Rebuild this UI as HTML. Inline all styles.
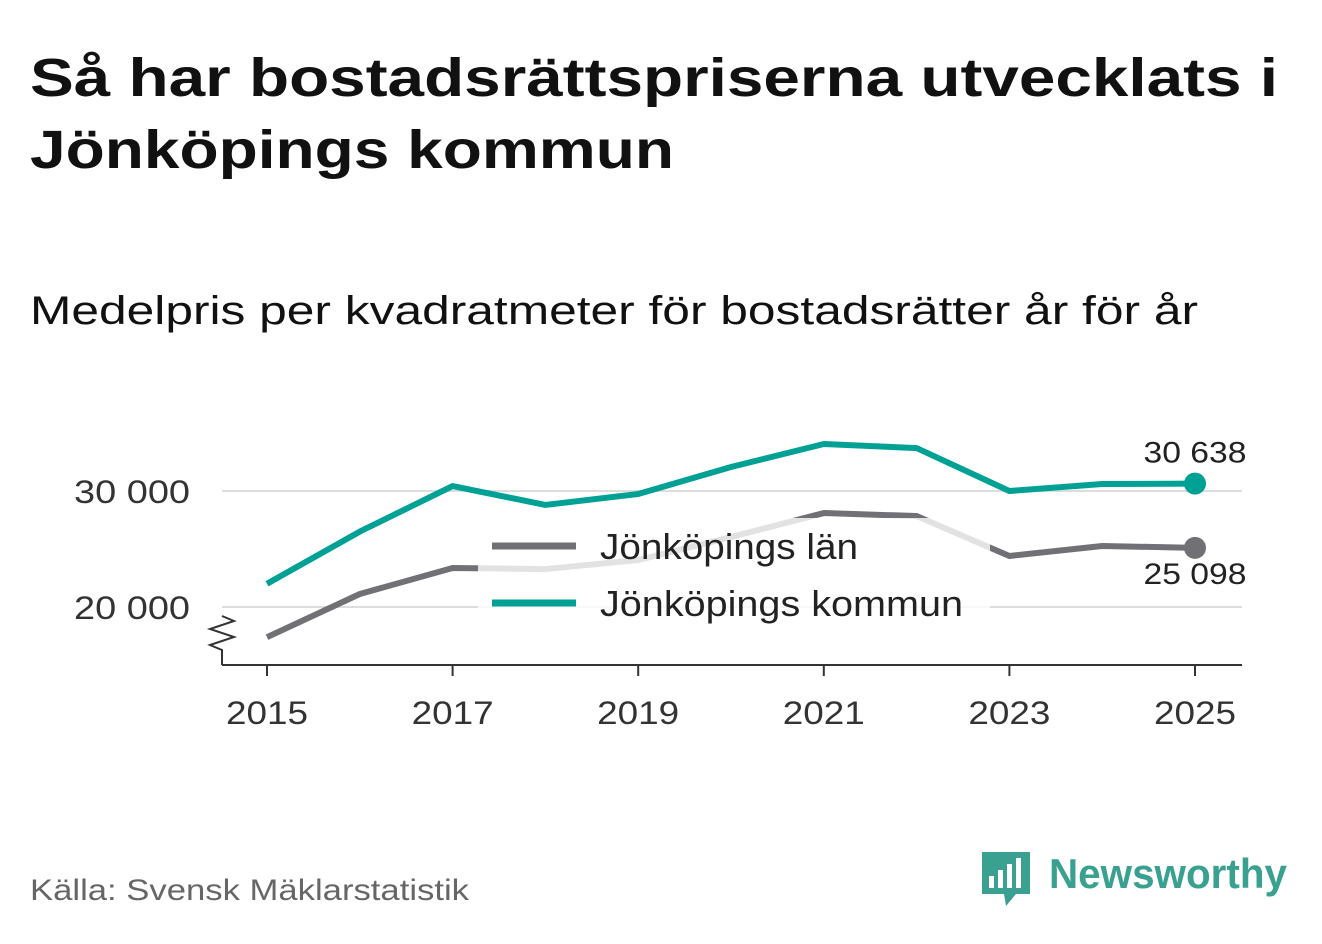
<!DOCTYPE html>
<html><head><meta charset="utf-8"><style>
body{margin:0;background:#fff;width:1322px;height:939px;overflow:hidden;font-family:"Liberation Sans","DejaVu Sans",sans-serif;}
</style></head><body>
<svg width="1322" height="939" viewBox="0 0 1322 939">
<text x="30" y="96" font-size="54" font-weight="bold" fill="#111" textLength="1248" lengthAdjust="spacingAndGlyphs">Så har bostadsrättspriserna utvecklats i</text>
<text x="30" y="168" font-size="54" font-weight="bold" fill="#111" textLength="644" lengthAdjust="spacingAndGlyphs">Jönköpings kommun</text>
<text x="30" y="324" font-size="40" fill="#111" textLength="1168" lengthAdjust="spacingAndGlyphs">Medelpris per kvadratmeter för bostadsrätter år för år</text>
<g id="plot"></g>
<text x="30" y="900" font-size="30" fill="#666" textLength="439" lengthAdjust="spacingAndGlyphs">Källa: Svensk Mäklarstatistik</text>
<g>
<path d="M982 852 h48 v42 h-14 l-10 12 l-2 -12 h-22 z" fill="#3aa190"/>
<rect x="989" y="876" width="5" height="12" fill="#fff"/><rect x="998" y="870" width="5" height="18" fill="#fff"/><rect x="1007" y="864" width="5" height="24" fill="#fff"/><rect x="1016" y="858" width="5" height="30" fill="#fff"/>
<text x="1049" y="888" font-size="42" font-weight="bold" fill="#3aa190" textLength="238" lengthAdjust="spacingAndGlyphs">Newsworthy</text>
</g>
</svg>
<script>
const years=[2015,2016,2017,2018,2019,2020,2021,2022,2023,2024,2025];
const kommun=[22000,26500,30430,28800,29740,32070,34050,33700,30000,30600,30638];
const lan=[17400,21120,23360,23270,24050,26030,28100,27840,24400,25260,25098];
const yTicks=[20000,30000];
const xTicks=[2015,2017,2019,2021,2023,2025];
const NS="http://www.w3.org/2000/svg";
const g=document.getElementById('plot');
const xS=v=>267+(v-2015)*92.8;
const yS=v=>491-(v-30000)*0.0116;
function mk(t,a,p){const e=document.createElementNS(NS,t);for(const k in a)e.setAttribute(k,a[k]);(p||g).appendChild(e);return e;}
const fmt=v=>String(v).replace(/\B(?=(\d{3})+(?!\d))/g,' ');
yTicks.forEach(v=>{
 const l=mk('line',{x1:222,x2:1242,y1:yS(v),y2:yS(v),stroke:'#ddd','stroke-width':2});
 
 
 const t=mk('text',{x:190,y:yS(v)+12,'font-size':32,fill:'#333','text-anchor':'end',textLength:116,lengthAdjust:'spacingAndGlyphs'});t.textContent=fmt(v);
 
 
});
const ax=mk('line',{x1:222,x2:1242,y1:665,y2:665,stroke:'#333','stroke-width':2});


const br=mk('path',{d:'M222 665 V650 L210 645 L234 637 L210 629 L234 621 L222 616',fill:'none',stroke:'#333','stroke-width':2});


xTicks.forEach(v=>{
 mk('line',{x1:xS(v),x2:xS(v),y1:665,y2:676,stroke:'#333','stroke-width':2});
 const t=mk('text',{x:xS(v),y:724,'font-size':32,fill:'#333','text-anchor':'middle',textLength:82,lengthAdjust:'spacingAndGlyphs'});t.textContent=v;
 
 
});
function series(vals,col,name){
 const p=mk('polyline',{points:vals.map((v,i)=>xS(years[i])+','+yS(v)).join(' '),fill:'none',stroke:col,'stroke-width':6,'stroke-linejoin':'round'});
 
 
 const n=vals.length-1;
 const c=mk('circle',{cx:xS(years[n]),cy:yS(vals[n]),r:11,fill:col});
 
 
}
series(lan,'#707075','lan');
series(kommun,'#00a195','kommun');
const t1=mk('text',{x:1195,y:yS(kommun[10])-21,'font-size':30,fill:'#222','text-anchor':'middle',textLength:103,lengthAdjust:'spacingAndGlyphs'});t1.textContent=fmt(kommun[10]);


const t2=mk('text',{x:1195,y:yS(lan[10])+36,'font-size':30,fill:'#222','text-anchor':'middle',textLength:103,lengthAdjust:'spacingAndGlyphs'});t2.textContent=fmt(lan[10]);


const lg=mk('g',{});


mk('rect',{x:478,y:518,width:512,height:112,fill:'#fff','fill-opacity':0.8},lg);
mk('line',{x1:492,x2:576,y1:546,y2:546,stroke:'#707075','stroke-width':7},lg);
mk('line',{x1:492,x2:576,y1:603,y2:603,stroke:'#00a195','stroke-width':7},lg);
const l1=mk('text',{x:600,y:559,'font-size':36,fill:'#222',textLength:258,lengthAdjust:'spacingAndGlyphs'},lg);l1.textContent='Jönköpings län';


const l2=mk('text',{x:600,y:616,'font-size':36,fill:'#222',textLength:363,lengthAdjust:'spacingAndGlyphs'},lg);l2.textContent='Jönköpings kommun';


</script>
</body></html>
